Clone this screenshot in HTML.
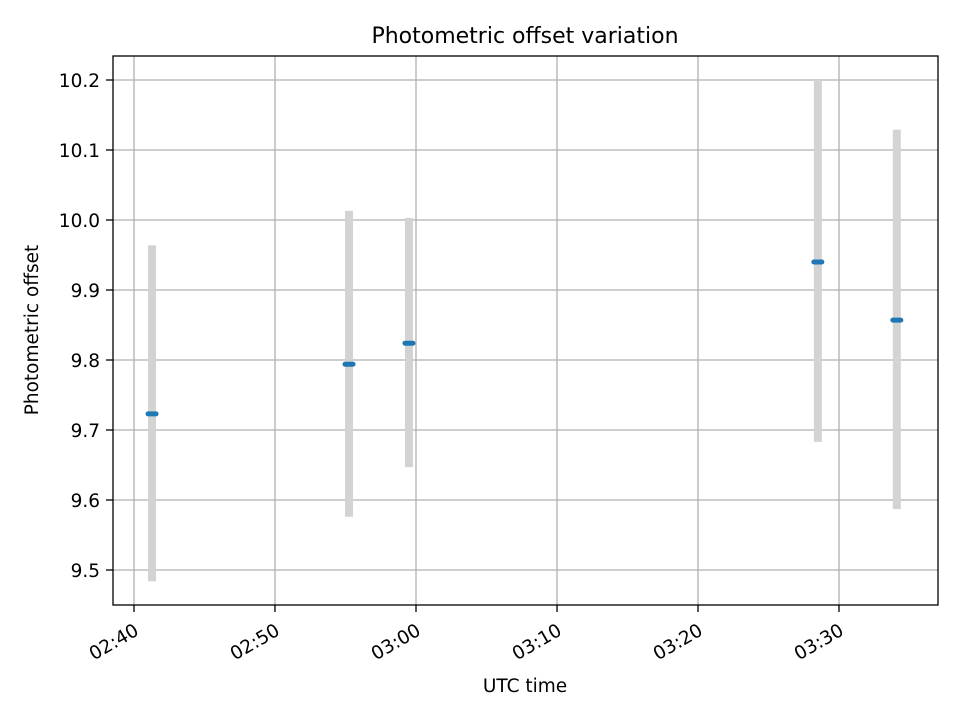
<!DOCTYPE html>
<html><head><meta charset="utf-8"><style>
body{margin:0;background:#fff}
svg{display:block;font-family:"DejaVu Sans","Liberation Sans",sans-serif}
</style></head><body>
<svg id="chart" width="960" height="720" viewBox="0 0 960 720">
<rect width="960" height="720" fill="#fff"/>
<text x="525" y="43" text-anchor="middle" font-size="22" fill="#000">Photometric offset variation</text>
<g id="grid"></g>
<g id="bars"></g>
<rect x="113" y="56" width="825" height="549" fill="none" stroke="#000" stroke-width="1.3"/>
<g id="ticks"></g>
<text x="525" y="692" text-anchor="middle" font-size="18.5">UTC time</text>
<text transform="translate(38,330) rotate(-90)" text-anchor="middle" font-size="18.5">Photometric offset</text>
</svg>
<script>
const times=[1.28,15.25,19.5,48.5,54.1]; // minutes after 02:40
const values=[9.723,9.794,9.824,9.940,9.857];
const errLow=[9.484,9.576,9.647,9.683,9.587];
const errHigh=[9.964,10.013,10.003,10.200,10.129];
const yTicks=[9.5,9.6,9.7,9.8,9.9,10.0,10.1,10.2];
const xTicks=[0,10,20,30,40,50];
const xTickLabels=["02:40","02:50","03:00","03:10","03:20","03:30"];
const NS="http://www.w3.org/2000/svg";
const X=m=>134+m*14.1;
const Y=v=>570-(v-9.5)*700;
function mk(tag,attrs,parent){const e=document.createElementNS(NS,tag);for(const k in attrs)e.setAttribute(k,attrs[k]);document.getElementById(parent).appendChild(e);return e;}
yTicks.forEach((t,i)=>{
 const g=mk('line',{x1:113,x2:938,y1:Y(t),y2:Y(t),stroke:'#b0b0b0','stroke-width':1.3},'grid');
 
 
 const tk=mk('line',{x1:106,x2:113,y1:Y(t),y2:Y(t),stroke:'#000','stroke-width':1.3},'ticks');
 
 
 const tx=mk('text',{x:100,y:Y(t)+7,'text-anchor':'end','font-size':18.5},'ticks');
 tx.textContent=t.toFixed(1);
 
 
});
xTicks.forEach((t,i)=>{
 const g=mk('line',{x1:X(t),x2:X(t),y1:56,y2:605,stroke:'#b0b0b0','stroke-width':1.3},'grid');
 
 
 const tk=mk('line',{x1:X(t),x2:X(t),y1:605,y2:612,stroke:'#000','stroke-width':1.3},'ticks');
 
 
 const tx=mk('text',{x:0,y:0,'text-anchor':'end','font-size':18.5,transform:`translate(${X(t)+6},${634}) rotate(-30)`},'ticks');
 tx.textContent=xTickLabels[i];
 
 
});
times.forEach((t,i)=>{
 const b=mk('line',{x1:X(t),x2:X(t),y1:Y(errHigh[i]),y2:Y(errLow[i]),stroke:'#d3d3d3','stroke-width':8},'bars');
 
 
 const p=mk('line',{x1:X(t)-4,x2:X(t)+4,y1:Y(values[i]),y2:Y(values[i]),stroke:'#1f77b4','stroke-width':5,'stroke-linecap':'round'},'bars');
 
 
});
</script>
</body></html>
